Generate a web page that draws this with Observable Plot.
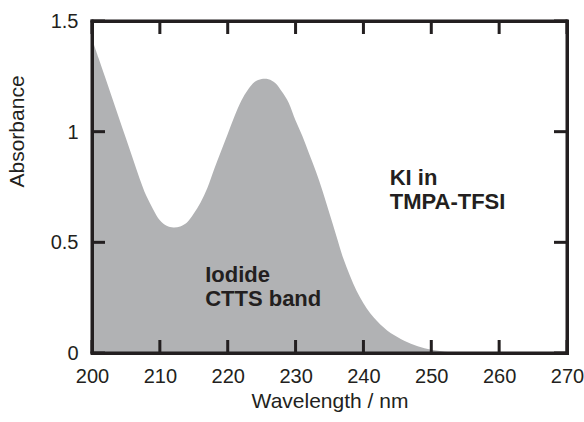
<!DOCTYPE html>
<html>
<head>
<meta charset="utf-8">
<script src="https://cdn.jsdelivr.net/npm/d3@7"></script>
<script src="https://cdn.jsdelivr.net/npm/@observablehq/plot@0.6"></script>
<style>
  html, body { margin: 0; padding: 0; background: #fff; }
  #chart svg { display: block; }
</style>
</head>
<body>
<div id="chart"></div>
<script>
const wavelength = [200,201,202,203,204,205,206,207,208,209,210,211,212,213,214,215,216,217,218,219,220,221,222,223,224,225,226,227,228,229,230,231,232,233,234,235,236,237,238,239,240,241,242,243,244,245,246,247,248,249,250,251,252,253,254];
const absorbance = [1.42,1.33,1.24,1.15,1.06,0.97,0.88,0.79,0.71,0.65,0.60,0.575,0.567,0.572,0.59,0.63,0.68,0.745,0.83,0.91,0.99,1.07,1.14,1.19,1.225,1.238,1.237,1.22,1.18,1.13,1.05,0.98,0.90,0.82,0.73,0.63,0.53,0.43,0.35,0.28,0.225,0.18,0.145,0.115,0.09,0.072,0.055,0.042,0.031,0.022,0.015,0.010,0.006,0.003,0.0];
const xDomain = [200, 270];
const yDomain = [0, 1.5];
const xTicks = [200,210,220,230,240,250,260,270];
const yTicks = [0,0.5,1,1.5];
const yTickLabels = ["0","0.5","1","1.5"];
const xLabel = "Wavelength / nm";
const yLabel = "Absorbance";
const notes = [
  {x: 216.6, y: 0.40, text: "Iodide\nCTTS band"},
  {x: 243.8, y: 0.84, text: "KI in\nTMPA-TFSI"}
];

const data = wavelength.map((w, i) => ({w, a: absorbance[i]}));
const ink = "#231f20";
const ff = "Liberation Sans, Arial, sans-serif";
const W = 584, H = 422, mL = 92, mR = 17, mT = 21, mB = 69;
const tick = 13, half = 1.5;

const chart = Plot.plot({
  width: W,
  height: H,
  marginLeft: mL,
  marginRight: mR,
  marginTop: mT,
  marginBottom: mB,
  x: {domain: xDomain, axis: null},
  y: {domain: yDomain, axis: null},
  marks: [
    Plot.areaY(data, {x: "w", y: "a", fill: "#b1b2b4", curve: "catmull-rom"}),
    // frame edges as filled bars
    Plot.rect(xDomain, {x1: d => d, x2: d => d, y1: () => yDomain[0], y2: () => yDomain[1],
      insetLeft: -half, insetRight: -half, insetTop: -half, insetBottom: -half, fill: ink}),
    Plot.rect(yDomain, {y1: d => d, y2: d => d, x1: () => xDomain[0], x2: () => xDomain[1],
      insetLeft: -half, insetRight: -half, insetTop: -half, insetBottom: -half, fill: ink}),
    // inward ticks as filled bars
    Plot.rect(xTicks, {x1: d => d, x2: d => d, y1: () => yDomain[0], y2: () => yDomain[0],
      insetLeft: -half, insetRight: -half, insetTop: -tick, insetBottom: 0, fill: ink}),
    Plot.rect(xTicks, {x1: d => d, x2: d => d, y1: () => yDomain[1], y2: () => yDomain[1],
      insetLeft: -half, insetRight: -half, insetTop: 0, insetBottom: -tick, fill: ink}),
    Plot.rect(yTicks, {y1: d => d, y2: d => d, x1: () => xDomain[0], x2: () => xDomain[0],
      insetTop: -half, insetBottom: -half, insetLeft: 0, insetRight: -tick, fill: ink}),
    Plot.rect(yTicks, {y1: d => d, y2: d => d, x1: () => xDomain[1], x2: () => xDomain[1],
      insetTop: -half, insetBottom: -half, insetLeft: -tick, insetRight: 0, fill: ink}),
    Plot.frame({stroke: ink, strokeWidth: 3}),
    Plot.text(xTicks, {x: d => d, frameAnchor: "bottom", dy: 15, lineAnchor: "top", text: d => String(d), fontSize: 20, fontFamily: ff, fill: ink}),
    Plot.text(yTicks, {y: d => d, frameAnchor: "left", dx: -14, textAnchor: "end", text: (d, i) => yTickLabels[i], fontSize: 20, fontFamily: ff, fill: ink}),
    Plot.text([xLabel], {frameAnchor: "bottom", dy: 54, text: d => d, fontSize: 21, fontFamily: ff, fill: ink}),
    Plot.text([yLabel], {frameAnchor: "left", dx: -75, rotate: -90, text: d => d, fontSize: 21, fontFamily: ff, fill: ink}),
    Plot.text(notes, {x: "x", y: "y", text: "text", textAnchor: "start", lineAnchor: "top", lineHeight: 1.1, fontSize: 22, fontFamily: ff, fontWeight: "bold", fill: ink})
  ]
});
document.getElementById("chart").appendChild(chart);
</script>
</body>
</html>
